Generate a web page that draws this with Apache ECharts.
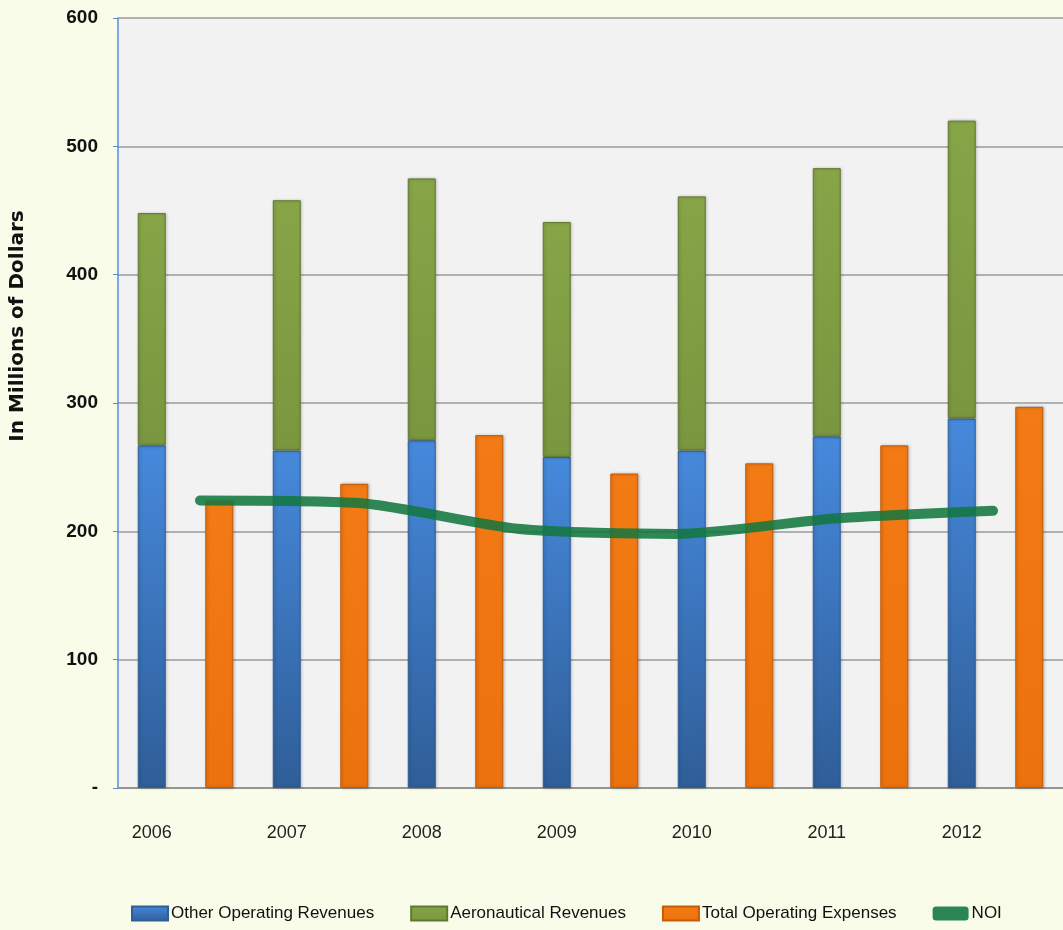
<!DOCTYPE html>
<html lang="en">
<head>
    <meta charset="UTF-8">
    <title>Revenues, Expenses and NOI</title>
    <script src="https://cdn.jsdelivr.net/npm/echarts@6/dist/echarts.min.js"></script>
    <style>
        html, body, #chart {
            width: 100%;
            height: 100%;
            margin: 0;
            padding: 0;
        }
        body {
            overflow: hidden;
            background: #f8fce9;
        }
    </style>
</head>
<body>
    <div id="chart"></div>
    <script>
        // values (millions of dollars)
        const years = ['2006', '2007', '2008', '2009', '2010', '2011', '2012'];
        const otherRevenues = [267, 263, 271, 258, 263, 274, 288];
        const aeroRevenues = [181, 195, 204, 183, 198, 209, 232];
        const totalExpenses = [224, 237, 275, 245, 253, 267, 297];
        // NOI line only runs over six points in the original
        const noiYears = ['2006', '2007', '2008', '2009', '2010', '2011'];
        const noiValues = [224, 222, 202, 198, 210, 216];

        // every year takes two slots: stacked revenues, then expenses
        const slots = years.flatMap(y => [y, y + ' ']);
        const otherSlots = otherRevenues.flatMap(v => [v, '-']);
        const aeroSlots = aeroRevenues.flatMap(v => [v, '-']);
        const expenseSlots = totalExpenses.flatMap(v => ['-', v]);

        const font = "'Liberation Sans', Arial, sans-serif";

        function vgrad(top, bottom) {
            return new echarts.graphic.LinearGradient(0, 0, 0, 1, [
                { offset: 0, color: top },
                { offset: 1, color: bottom }
            ]);
        }

        var chart = echarts.init(document.getElementById('chart'));

        var option = {
            backgroundColor: '#f8fce9',
            animation: false,
            legend: {
                bottom: 3,
                left: 126,
                itemWidth: 36,
                itemHeight: 14,
                itemGap: 36,
                textStyle: { fontFamily: font, fontSize: 17, color: '#111', padding: [0, 0, 0, -2] },
                data: [
                    { name: 'Other Operating Revenues', icon: 'rect' },
                    { name: 'Aeronautical Revenues', icon: 'rect' },
                    { name: 'Total Operating Expenses', icon: 'rect' },
                    { name: 'NOI', icon: 'roundRect', itemStyle: { color: '#2a8552' } }
                ]
            },
            graphic: [{
                type: 'text',
                x: 18,
                y: 326,
                rotation: Math.PI / 2,
                style: {
                    text: 'In Millions of Dollars',
                    font: 'bold 20px "DejaVu Sans", sans-serif',
                    fill: '#111',
                    align: 'center',
                    verticalAlign: 'middle'
                }
            }],
            grid: [
                { left: 118, top: 18, width: 955, bottom: 142, show: true, backgroundColor: '#f2f2f2', borderWidth: 0 },
                { left: 200, top: 18, width: 793, bottom: 142 }
            ],
            xAxis: [{
                type: 'category',
                data: slots,
                gridIndex: 0,
                axisLine: { lineStyle: { color: '#8a8a8a', width: 1.5 } },
                axisTick: { interval: 0, length: 11, lineStyle: { color: '#8a8a8a' } },
                axisLabel: { interval: 1, margin: 36, fontFamily: font, fontSize: 18, color: '#222' }
            }, {
                type: 'category',
                data: noiYears,
                gridIndex: 1,
                boundaryGap: false,
                show: false
            }],
            yAxis: [{
                type: 'value',
                gridIndex: 0,
                min: 0,
                max: 600,
                interval: 100,
                axisLine: { show: true, lineStyle: { color: '#5b8ed8', width: 1.5 } },
                axisTick: { show: true, length: 5, lineStyle: { color: '#5b8ed8' } },
                splitLine: { lineStyle: { color: '#9a9a9a', width: 1.5 } },
                axisLabel: {
                    margin: 20,
                    fontFamily: font,
                    fontSize: 19,
                    fontWeight: 'bold',
                    color: '#111',
                    formatter: v => (v === 0 ? '-' : v)
                }
            }, {
                type: 'value',
                gridIndex: 1,
                min: 0,
                max: 600,
                show: false
            }],
            series: [{
                name: 'Other Operating Revenues',
                type: 'bar',
                stack: 'rev',
                barWidth: 28,
                barGap: '-100%',
                data: otherSlots,
                itemStyle: {
                    color: vgrad('#4689dc', '#2f5e98'),
                    borderColor: '#2f5f99',
                    borderWidth: 1,
                    shadowColor: 'rgba(0,0,0,0.25)',
                    shadowBlur: 3,
                    shadowOffsetX: 1
                }
            }, {
                name: 'Aeronautical Revenues',
                type: 'bar',
                stack: 'rev',
                barWidth: 28,
                barGap: '-100%',
                data: aeroSlots,
                itemStyle: {
                    color: vgrad('#87a547', '#7a963f'),
                    borderColor: '#5f7a2e',
                    borderWidth: 1,
                    shadowColor: 'rgba(0,0,0,0.25)',
                    shadowBlur: 3,
                    shadowOffsetX: 1
                }
            }, {
                name: 'Total Operating Expenses',
                type: 'bar',
                barWidth: 28,
                barGap: '-100%',
                data: expenseSlots,
                itemStyle: {
                    color: vgrad('#f37a14', '#ec720e'),
                    borderColor: '#c45c08',
                    borderWidth: 1,
                    shadowColor: 'rgba(0,0,0,0.25)',
                    shadowBlur: 3,
                    shadowOffsetX: 1
                }
            }, {
                name: 'NOI',
                type: 'line',
                xAxisIndex: 1,
                yAxisIndex: 1,
                data: noiValues,
                smooth: 0.25,
                symbol: 'none',
                z: 5,
                color: '#2a8552',
                lineStyle: { color: 'rgba(18,118,62,0.87)', width: 10, cap: 'round' }
            }]
        };

        chart.setOption(option);
        window.addEventListener('resize', function () {
            chart.resize();
        });
    </script>
</body>
</html>
